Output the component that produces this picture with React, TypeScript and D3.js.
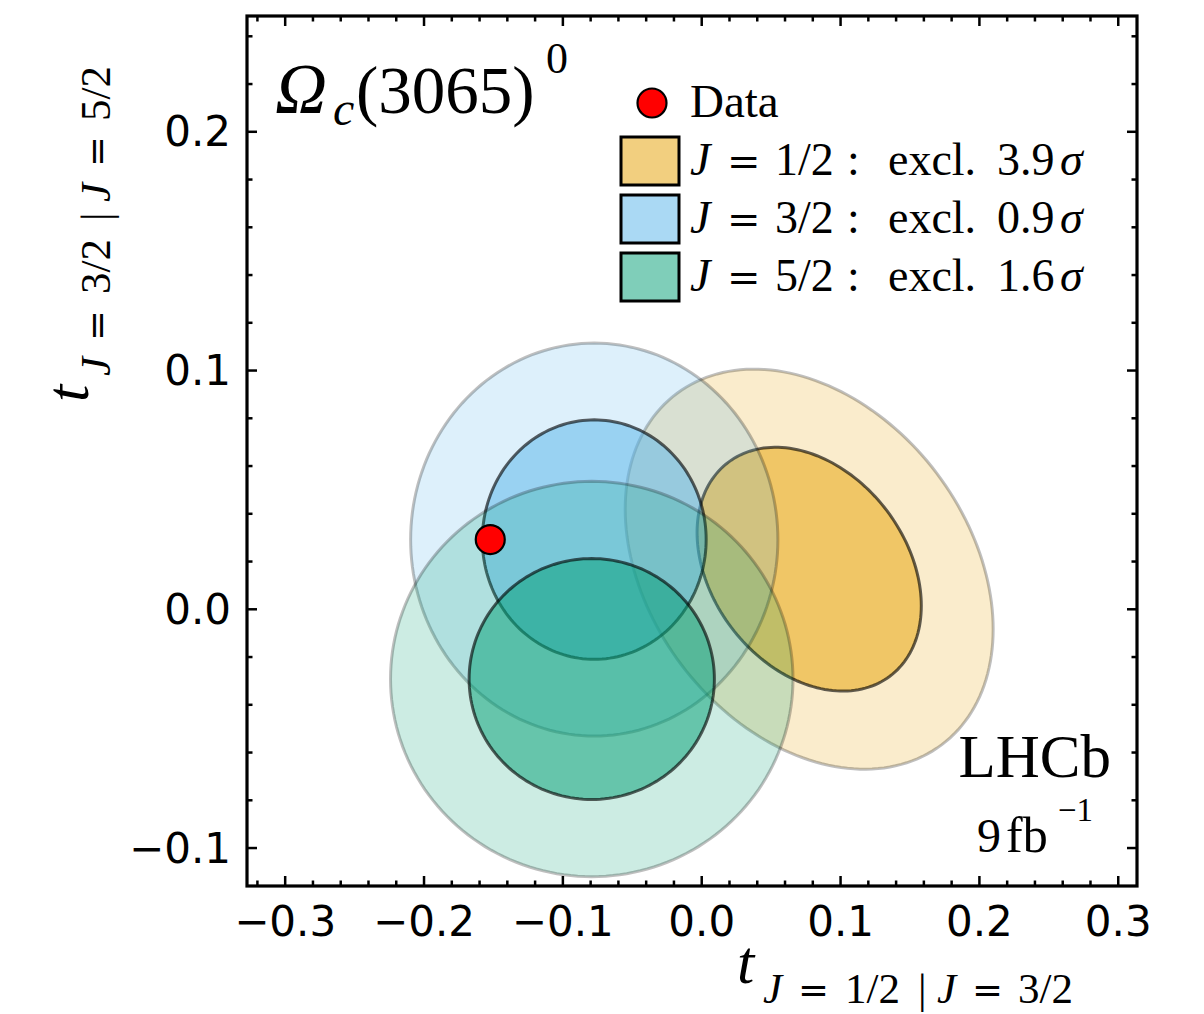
import React from "react";
import * as d3 from "d3";

// Spin-hypothesis expectations: 2D Gaussian in (t_{1/2|3/2}, t_{3/2|5/2})
const hypothesisLabels = ["1/2", "3/2", "5/2"];
const meanX = [0.0774, -0.0774, -0.0792];
const meanY = [0.0168, 0.0292, -0.0292];
const sigmaX = [0.0533, 0.0532, 0.0583];
const sigmaY = [0.0337, 0.0331, 0.0333];
const correlation = [-0.3, 0, 0];
const exclusion = ["3.9", "0.9", "1.6"];
const colors = ["#E69F00", "#56B4E9", "#009E73"];

// 68.3% and 95.4% contours of a 2-dof Gaussian (radius in sigma units)
const contourRadii = [2.486, 1.515];

// Observed value
const dataX = [-0.1523];
const dataY = [0.0292];

const X_DOMAIN = [-0.3275, 0.3135];
const Y_DOMAIN = [-0.1159, 0.2485];
const xTickValues = [-0.3, -0.2, -0.1, 0.0, 0.1, 0.2, 0.3];
const yTickValues = [-0.1, 0.0, 0.1, 0.2];

const W = 1204;
const H = 1014;
const plot = { left: 247, right: 1137, top: 16, bottom: 886 };
const SERIF = "'Liberation Serif', 'DejaVu Serif', serif";
const WIDE = "'DejaVu Serif', serif";
const SANS = "'DejaVu Sans', sans-serif";

// Subscript of the form "J = a/b | J = c/d", pieces placed along the baseline
function PairSubscript({ a, b, size }: { a: string; b: string; size: number }) {
  return (
    <>
      <tspan x={0} fontStyle="italic">J</tspan>
      <tspan x={35} fontFamily={WIDE} fontSize={size * 0.86}>=</tspan>
      <tspan x={82}>{a}</tspan>
      <tspan x={155}>|</tspan>
      <tspan x={174} fontStyle="italic">J</tspan>
      <tspan x={209} fontFamily={WIDE} fontSize={size * 0.86}>=</tspan>
      <tspan x={255}>{b}</tspan>
    </>
  );
}

export default function App() {
  const x = d3.scaleLinear().domain(X_DOMAIN).range([plot.left, plot.right]);
  const y = d3.scaleLinear().domain(Y_DOMAIN).range([plot.bottom, plot.top]);
  const fmt = d3.format(".1f");

  const contourPath = (i: number, k: number) => {
    const r = correlation[i];
    const pts = d3.range(0, 360, 2).map((deg) => {
      const t = (deg * Math.PI) / 180;
      const u = k * Math.cos(t);
      const v = k * Math.sin(t);
      const px = meanX[i] + sigmaX[i] * u;
      const py = meanY[i] + sigmaY[i] * (r * u + Math.sqrt(1 - r * r) * v);
      return [x(px), y(py)] as [number, number];
    });
    return d3.line().curve(d3.curveLinearClosed)(pts) || "";
  };

  const minorX = d3.range(-17, 17).map((i) => i * 0.02).filter((v) => v >= X_DOMAIN[0] && v <= X_DOMAIN[1]);
  const minorY = d3.range(-6, 13).map((i) => i * 0.02).filter((v) => v >= Y_DOMAIN[0] && v <= Y_DOMAIN[1]);
  const isMajor = (v: number) => Math.abs(v * 10 - Math.round(v * 10)) < 1e-6;

  const MAJ = 10;
  const MIN = 5.5;

  return (
    <svg width={W} height={H} style={{ position: "absolute", left: 0, top: 0, background: "#fff" }}>
      <defs>
        <clipPath id="plotArea">
          <rect x={plot.left} y={plot.top} width={plot.right - plot.left} height={plot.bottom - plot.top} />
        </clipPath>
      </defs>

      <g clipPath="url(#plotArea)">
        {colors.map((c, i) => (
          <g key={i}>
            <path d={contourPath(i, contourRadii[0])} fill={c} fillOpacity={0.2} stroke="rgba(0,0,0,0.25)" strokeWidth={3} />
            <path d={contourPath(i, contourRadii[1])} fill={c} fillOpacity={0.5} stroke="rgba(0,0,0,0.62)" strokeWidth={3} />
          </g>
        ))}
        {dataX.map((d, i) => (
          <circle key={i} cx={x(d)} cy={y(dataY[i])} r={14.5} fill="#FF0000" stroke="#000" strokeWidth={2.2} />
        ))}
      </g>

      {/* ticks on all four sides, pointing inward */}
      <g stroke="#000" strokeWidth={2.5}>
        {minorX.map((v, i) => {
          const len = isMajor(v) ? MAJ : MIN;
          return (
            <g key={"x" + i}>
              <line x1={x(v)} x2={x(v)} y1={plot.bottom} y2={plot.bottom - len} />
              <line x1={x(v)} x2={x(v)} y1={plot.top} y2={plot.top + len} />
            </g>
          );
        })}
        {minorY.map((v, i) => {
          const len = isMajor(v) ? MAJ : MIN;
          return (
            <g key={"y" + i}>
              <line y1={y(v)} y2={y(v)} x1={plot.left} x2={plot.left + len} />
              <line y1={y(v)} y2={y(v)} x1={plot.right} x2={plot.right - len} />
            </g>
          );
        })}
      </g>
      <rect x={plot.left} y={plot.top} width={plot.right - plot.left} height={plot.bottom - plot.top} fill="none" stroke="#000" strokeWidth={3.2} />

      {/* tick labels */}
      <g fontFamily={SANS} fontSize={42} fill="#000">
        {xTickValues.map((v) => (
          <text key={"xl" + v} x={x(v)} y={936} textAnchor="middle">{fmt(v)}</text>
        ))}
        {yTickValues.map((v) => (
          <text key={"yl" + v} x={231} y={y(v)} textAnchor="end" dominantBaseline="central">{fmt(v)}</text>
        ))}
      </g>

      {/* axis titles */}
      <g fontFamily={SERIF} fill="#000">
        <text x={737} y={983} fontSize={62} fontStyle="italic">t</text>
        <g transform="translate(763,1003)">
          <text fontSize={43}>
            <PairSubscript a="1/2" b="3/2" size={43} />
          </text>
        </g>
        <g transform="translate(88,402) rotate(-90)">
          <text x={0} y={0} fontSize={62} fontStyle="italic">t</text>
          <g transform="translate(26,22)">
            <text fontSize={43}>
              <PairSubscript a="3/2" b="5/2" size={43} />
            </text>
          </g>
        </g>
      </g>

      {/* particle label */}
      <g fontFamily={SERIF} fill="#000">
        <text x={275} y={113} fontSize={72} fontStyle="italic">Ω</text>
        <text x={333} y={125} fontSize={48} fontStyle="italic">c</text>
        <text x={356} y={113} fontSize={67}>(3065)</text>
        <text x={546} y={73} fontSize={44}>0</text>
      </g>

      {/* experiment label */}
      <g fontFamily={SERIF} fill="#000">
        <text x={1111} y={777} fontSize={61} textAnchor="end">LHCb</text>
        <text x={977} y={852} fontSize={48}>9</text>
        <text x={1006} y={852} fontSize={50}>fb</text>
        <text x={1058} y={821} fontSize={33}>−1</text>
      </g>

      {/* legend */}
      <g fontFamily={SERIF} fill="#000">
        <circle cx={652} cy={103} r={14.5} fill="#FF0000" stroke="#000" strokeWidth={2.2} />
        <text x={690} y={117} fontSize={47}>Data</text>
        {hypothesisLabels.map((lab, i) => {
          const top = 137 + i * 58;
          const base = top + 38;
          return (
            <g key={"lg" + i}>
              <rect x={621} y={top} width={58} height={48} fill={colors[i]} fillOpacity={0.5} stroke="#000" strokeWidth={3} />
              <text y={base} fontSize={46}>
                <tspan x={690} fontStyle="italic">J</tspan>
                <tspan x={727} fontFamily={WIDE} fontSize={40}>=</tspan>
                <tspan x={775}>{lab}</tspan>
                <tspan x={847}>:</tspan>
                <tspan x={888}>excl.</tspan>
                <tspan x={997}>{exclusion[i]}</tspan>
                <tspan x={1060} fontStyle="italic">σ</tspan>
              </text>
            </g>
          );
        })}
      </g>
    </svg>
  );
}
